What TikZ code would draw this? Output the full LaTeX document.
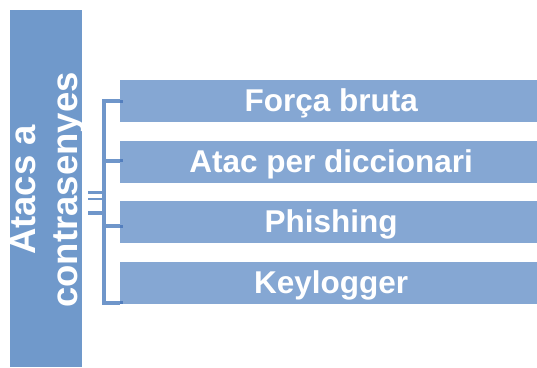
\documentclass[tikz,border=0pt]{standalone}
\usepackage{fontspec}
\setmainfont{Liberation Sans}
\definecolor{rootblue}{RGB}{112,153,203}
\definecolor{itemblue}{RGB}{133,167,211}
\definecolor{linkblue}{RGB}{111,150,202}
\definecolor{dotblue}{RGB}{82,126,190}
\begin{document}
\begin{tikzpicture}[x=1pt,y=-1pt,
  rootbox/.style={fill=rootblue, draw=none, minimum width=72pt, minimum height=357pt, inner sep=0pt},
  roottext/.style={rotate=90, text=white, align=center, font=\bfseries\fontsize{36.5}{42}\selectfont},
  itembox/.style={fill=itemblue, draw=none, anchor=north west, minimum width=422pt, minimum height=42pt,
    inner sep=0pt, text=white, font=\bfseries\fontsize{31.5}{37}\selectfont, text height=21.5pt, text depth=0pt},
  bracket/.style={draw=linkblue, line width=4pt, line cap=butt, line join=miter},
  stub/.style={draw=linkblue, line cap=butt},
  dot/.style={fill=dotblue, draw=none, minimum size=3pt, inner sep=0pt}
]
\useasboundingbox (0,0) rectangle (537,367);

% left category box
\node[rootbox] (root) at (46,188.5) {};
\node[roottext] (rootlabel) at (47.5,190) {Atacs a\\contrasenyes};

% item boxes
\node[itembox] (b1) at (120,80)    {Força bruta};
\node[itembox] (b2) at (120,140.5) {Atac per diccionari};
\node[itembox] (b3) at (120,201)   {Phishing};
\node[itembox] (b4) at (120,261.5) {Keylogger};

% bracket joining the items
\coordinate (k1) at (120,101);
\coordinate (k2) at (120,160.5);
\coordinate (k3) at (120,226);
\coordinate (k4) at (120,302.5);
\coordinate (spineTop) at (104,101);
\coordinate (spineBot) at (104,302.5);
\draw[bracket] (k1) -- (spineTop) -- (spineBot) -- (k4);
\draw[bracket] (104,160.5) -- (k2);
\draw[bracket] (104,226) -- (k3);

% short stubs towards the category box
\coordinate (s1) at (88,192.5);
\coordinate (s2) at (88,199);
\coordinate (s3) at (88,213);
\draw[stub, line width=2.5pt] (s1) -- (104,192.5);
\draw[stub, line width=2.5pt] (s2) -- (104,199);
\draw[stub, line width=3.5pt] (s3) -- (104,213);

% connection points on the item boxes
\node[dot] at (121.5,101) {};
\node[dot] at (121.5,160.5) {};
\node[dot] at (121.5,226) {};
\node[dot] at (121.5,302.5) {};
\end{tikzpicture}
\end{document}
